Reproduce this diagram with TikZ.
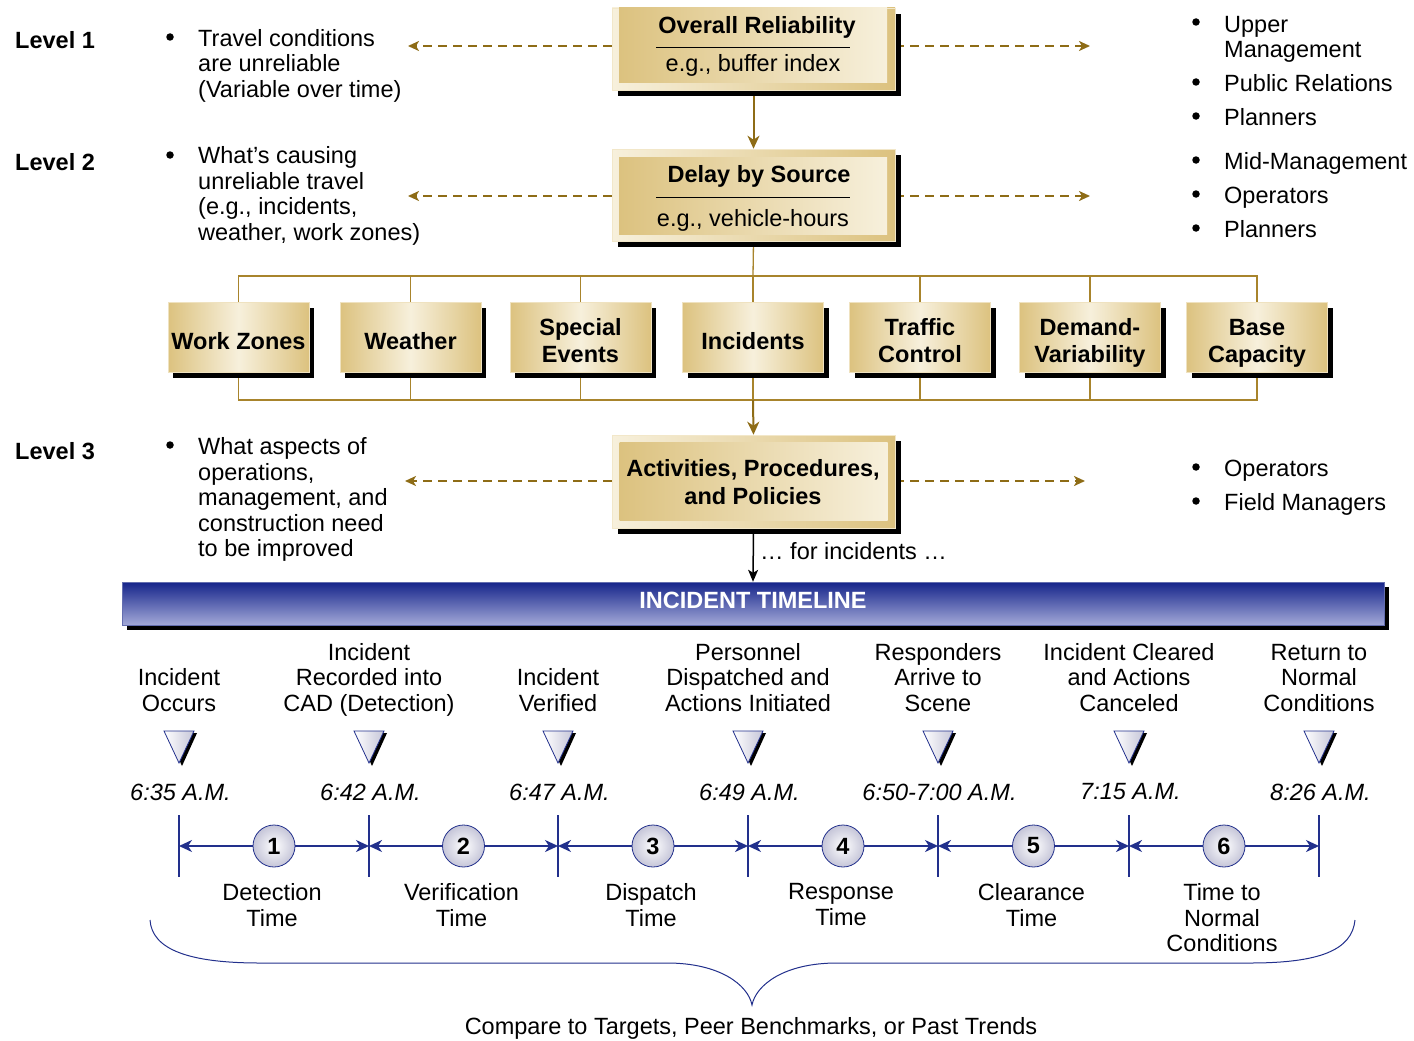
\documentclass[tikz,border=0pt]{standalone}
\usepackage{fontspec}
\setmainfont{Liberation Sans}
\usetikzlibrary{arrows.meta,shadows,backgrounds,calc}

\definecolor{boxgold}{HTML}{DCC27F}
\definecolor{boxcream}{HTML}{F7F0DC}
\definecolor{treegold}{HTML}{A8842C}
\definecolor{arrgold}{HTML}{8E6C16}
\definecolor{tlnavy}{HTML}{22308C}
\definecolor{bandark}{HTML}{15248A}
\definecolor{banlight}{HTML}{A3A9D8}
\definecolor{circgray}{HTML}{C5C5D8}

\newcommand\diagfont{\fontsize{23.5}{25.5}\selectfont}

\tikzset{
  boxframe/.style={rectangle, draw=boxcream!80!boxgold, line width=0.6, inner sep=0,
    left color=boxcream, right color=boxgold, minimum width=283,
    drop shadow={shadow xshift=6pt, shadow yshift=-6pt, opacity=1, fill=black}},
  boxpanel/.style={rectangle, inner sep=0, left color=boxgold, right color=boxcream, minimum width=268},
  catbox/.style={rectangle, draw=boxcream!70!boxgold, line width=0.6, inner sep=2pt,
    left color=boxgold, right color=boxgold, middle color=boxcream,
    minimum width=141, minimum height=70, align=center, font=\diagfont\bfseries,
    execute at begin node={\rule{0pt}{29pt}}, execute at end node={\rule[-5pt]{0pt}{5pt}},
    drop shadow={shadow xshift=5pt, shadow yshift=-5pt, opacity=1, fill=black}},
  catbox2/.style={catbox, execute at begin node={\rule{0pt}{55pt}}},
  banner/.style={rectangle, draw=tlnavy!70, top color=bandark, bottom color=banlight,
    minimum width=1262, minimum height=43, text depth=7pt, text=white, font=\diagfont\bfseries,
    drop shadow={shadow xshift=5pt, shadow yshift=-5pt, opacity=1, fill=black}},
  numcirc/.style={circle, draw=tlnavy, line width=0.8, inner sep=0, minimum size=42,
    inner color=white, outer color=circgray, font=\diagfont\bfseries},
  bul/.style={circle, fill=black, inner sep=0, minimum size=7.5},
  goldarr/.style={draw=arrgold, line width=2, -{Stealth[length=13pt,width=12pt,inset=4pt]}},
  dasharr/.style={draw=arrgold, line width=2, dash pattern=on 9pt off 6pt,
    -{Stealth[length=11pt,width=10pt,inset=3pt]}},
  treeline/.style={draw=treegold, line width=1.3},
  blkarr/.style={draw=black, line width=1.5, -{Stealth[length=12pt,width=10pt,inset=3pt]}},
  tlarr/.style={draw=tlnavy, line width=2, -{Stealth[length=13pt,width=12pt,inset=4pt]}},
  tltick/.style={draw=tlnavy, line width=1.2},
  lvl/.style={anchor=west, inner sep=0, font=\diagfont\bfseries},
  blist/.style={anchor=west, inner sep=0, align=left}
}

\begin{document}
\begin{tikzpicture}[x=1pt, y=-1pt, font=\diagfont]
  \useasboundingbox (0,0) rectangle (1414,1041);

  \node[lvl] (lv1) at (15,40) {Level 1};
  \node[lvl] (lv2) at (15,162) {Level 2};
  \node[lvl] (lv3) at (15,451) {Level 3};

  \node[bul] (bl1) at (170,37) {};
  \node[blist] (tx1) at (198,65.5) {Travel conditions\\are unreliable\\(Variable over time)};
  \node[bul] (bl2) at (170,155) {};
  \node[blist] (tx2) at (198,196) {What’s causing\\unreliable travel\\(e.g., incidents,\\weather, work zones)};
  \node[bul] (bl3) at (170,445) {};
  \node[blist] (tx3) at (198,499.5) {What aspects of\\operations,\\management, and\\construction need\\to be improved};

  \node[bul] (rb0) at (1196,22) {};
  \node[blist] (rt0) at (1224,39.5) {Upper\\Management};
  \foreach \yy/\txt [count=\k] in {83/Public Relations, 117/Planners, 161/Mid-Management,
      195/Operators, 229/Planners, 468/Operators, 502/Field Managers}
  {
    \node[bul] (rb\k) at (1196,\yy-1) {};
    \node[anchor=base west, inner sep=0] (rt\k) at (1224,\yy+8.6) {\txt};
  }

  % level boxes
  \node[boxframe, minimum height=82] (orf) at (753.5,49) {};
  \node[boxpanel, minimum height=75] (orp) at (753,45.5) {};
  \node[font=\diagfont\bfseries] (ort) at (757,27) {Overall Reliability};
  \node (ors) at (753,65) {e.g., buffer index};
  \draw[line width=0.9] (656,47) -- (850,47);

  \node[boxframe, minimum height=92] (dbf) at (753.5,195) {};
  \node[boxpanel, minimum height=77] (dbp) at (753,195.5) {};
  \node[font=\diagfont\bfseries] (dbt) at (759,176) {Delay by Source};
  \node (dbs) at (753,220) {e.g., vehicle-hours};
  \draw[line width=0.9] (656,197) -- (850,197);

  \foreach \nm/\x/\txt in {wz/238.5/Work Zones, we/410.5/Weather, inc/753/Incidents}
    \node[catbox] (\nm) at (\x,337.5) {\txt};
  \foreach \nm/\x/\txt in {se/580.5/{Special\\[2pt]Events}, tc/920/{Traffic\\[2pt]Control},
      dv/1090/{Demand-\\[2pt]Variability}, bc/1257/{Base\\[2pt]Capacity}}
    \node[catbox2] (\nm) at (\x,337.5) {\txt};

  \node[boxframe, minimum height=93] (apf) at (753.5,481.5) {};
  \node[boxpanel, minimum height=78] (app) at (753.5,481) {};
  \node[align=center, font=\diagfont\bfseries] (apt) at (753,482) {Activities, Procedures,\\[2pt]and Policies};

  \node[banner] (itl) at (753,603.5) {INCIDENT TIMELINE};
  \node[anchor=west, inner sep=0] (fin) at (760,551) {… for incidents …};

  \coordinate (trtop) at (753,276);
  \coordinate (trbot) at (753,400);
  \coordinate (d1l) at (408,46);  \coordinate (d1r) at (1090,46);
  \coordinate (d2l) at (408,196); \coordinate (d2r) at (1090,196);
  \coordinate (d3l) at (405,481); \coordinate (d3r) at (1085,481);

  \begin{scope}[on background layer]
    \draw[goldarr] (orf.south) -- (dbf.north);
    \draw[treeline] (dbf.south) -- (trtop);
    \draw[treeline] (wz.north) -- (wz.north |- trtop) -- (bc.north |- trtop) -- (bc.north);
    \draw[treeline] (wz.south) -- (wz.south |- trbot) -- (bc.south |- trbot) -- (bc.south);
    \foreach \nm in {we,se,inc,tc,dv}
    {
      \draw[treeline] (\nm.north) -- (\nm.north |- trtop);
      \draw[treeline] (\nm.south) -- (\nm.south |- trbot);
    }
    \draw[goldarr] (trbot) -- (apf.north);
    \draw[dasharr] (orf.west |- d1l) -- (d1l);
    \draw[dasharr] (orf.east |- d1r) -- (d1r);
    \draw[dasharr] (dbf.west |- d2l) -- (d2l);
    \draw[dasharr] (dbf.east |- d2r) -- (d2r);
    \draw[dasharr] (apf.west |- d3l) -- (d3l);
    \draw[dasharr] (apf.east |- d3r) -- (d3r);
    \draw[blkarr] (apf.south) -- (itl.north);
  \end{scope}

  % timeline
  \foreach \x/\txt/\tm [count=\i from 0] in {179/{Incident\\Occurs}/6:35 A.M.,
      369/{Incident\\Recorded into\\CAD (Detection)}/6:42 A.M., 558/{Incident\\Verified}/6:47 A.M.,
      748/{Personnel\\Dispatched and\\Actions Initiated}/6:49 A.M.,
      938/{Responders\\Arrive to\\Scene}/6:50-7:00 A.M., 1129/{Incident Cleared\\and Actions\\Canceled}/7:15 A.M.,
      1319/{Return to\\Normal\\Conditions}/8:26 A.M.}
  {
    \node[align=center, anchor=south, execute at end node={\rule[-5pt]{0pt}{5pt}}] (ev\i) at (\x,720) {\txt};
    \fill[black] (\x-12,733) -- (\x+18,733) -- (\x+3,766) -- cycle;
    \path[draw=tlnavy, line width=0.8, left color=white, right color=circgray]
      (\x-15,731) -- (\x+15,731) -- (\x,763) -- cycle;
    \node[font=\diagfont\itshape] (tm\i) at (\x+1.5,792) {\tm};
    \draw[tltick] (\x,815) -- (\x,877);
    \coordinate (tk\i) at (\x,846);
  }

  \foreach \i/\txt [count=\j] in {0/{Detection\\Time}, 1/{Verification\\Time}, 2/{Dispatch\\Time},
      3/{Response\\Time}, 4/{Clearance\\Time}, 5/{Time to\\Normal\\Conditions}}
  {
    \node[numcirc] (nc\j) at ($(tk\i)!0.5!(tk\j)$) {\j};
    \draw[tlarr] (nc\j) -- (tk\i);
    \draw[tlarr] (nc\j) -- (tk\j);
    \node[align=center, anchor=north] (sg\j) at ($(nc\j)+(-2,34)$) {\txt};
  }

  \draw[tlnavy, line width=1] (150,920) .. controls (152,950) and (190,963) .. (260,963) -- (667,963)
    .. controls (720,963) and (748,985) .. (752,1005) .. controls (756,985) and (784,963) .. (837,963)
    -- (1250,963) .. controls (1320,963) and (1352,950) .. (1355,920);
  \node (cmp) at (751,1028) {Compare to Targets, Peer Benchmarks, or Past Trends};
\end{tikzpicture}
\end{document}
